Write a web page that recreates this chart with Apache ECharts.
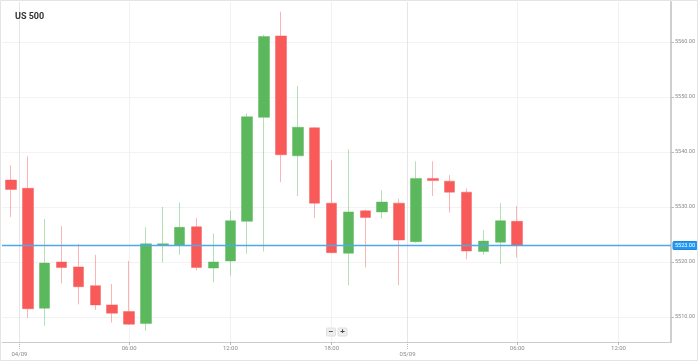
<!DOCTYPE html>
<html><head><meta charset="utf-8">
<script src="https://cdn.jsdelivr.net/npm/echarts@6/dist/echarts.min.js"></script>
<style>html,body{margin:0;padding:0;background:#fff}#c{width:698px;height:361px}</style>
</head><body><div id="c"></div>
<script>
// hourly candles, index positions on the time axis
const candleIndex = [0,1,2,3,4,5,6,7,8,9,10,11,12,13,14,15,16,17,18,19,20,21,22,23,24,25,26,27,28,29,30];
const opens  = [5534.9,5533.4,5511.6,5520.0,5519.1,5515.7,5512.2,5511.0,5508.8,5523.1,5523.1,5526.4,5518.9,5520.2,5527.4,5546.3,5561.1,5539.3,5544.4,5530.7,5521.6,5529.3,5529.1,5530.7,5523.7,5535.2,5534.7,5532.7,5521.9,5523.6,5527.4];
const closes = [5533.2,5511.5,5519.8,5519.0,5515.5,5512.2,5510.7,5508.7,5523.3,5523.3,5526.3,5519.0,5520.0,5527.5,5546.4,5561.0,5539.5,5544.5,5530.7,5521.7,5529.1,5528.1,5530.9,5524.0,5535.2,5534.8,5532.7,5522.0,5523.8,5527.5,5523.0];
const lows   = [5528.2,5509.8,5508.4,5516.1,5512.3,5511.3,5509.0,5508.6,5507.5,5519.9,5521.3,5518.5,5516.3,5517.5,5521.5,5521.9,5534.5,5532.0,5528.0,5521.6,5515.8,5519.0,5527.9,5515.8,5523.5,5532.0,5529.0,5520.5,5521.3,5519.6,5520.8];
const highs  = [5537.6,5539.2,5527.8,5526.5,5523.3,5521.3,5516.0,5520.2,5526.3,5530.0,5530.8,5528.0,5525.2,5529.3,5547.0,5561.3,5565.5,5552.0,5544.5,5538.5,5540.5,5529.5,5533.0,5531.5,5538.3,5538.3,5535.8,5533.4,5525.8,5530.7,5530.2];
const currentPrice = 5523.00;
// axis tick labels
const timeTickPos = [7,13,19,30,36];
const timeTickLabels = ['06:00','12:00','18:00','06:00','12:00'];
const dateTickPos = [0.5,23.5];
const dateTickLabels = ['04/09','05/09'];
const priceTicks = [5510,5520,5530,5540,5550,5560];

const data = candleIndex.map((x,i)=>[x,opens[i],closes[i],lows[i],highs[i]]);
const labelFor = (pos, labels) => v => { const k = pos.findIndex(p=>Math.abs(p-v)<1e-6); return k>=0?labels[k]:''; };

const chart = echarts.init(document.getElementById('c'), null, {renderer:'canvas'});
const xMin = -0.533, xMax = 39.112;
chart.setOption({
  animation:false,
  backgroundColor:'#fff',
  title:{text:'US 500', left:10, top:7, textStyle:{fontSize:9, fontWeight:'bold', color:'#333', fontFamily:'Roboto'}},
  grid:{left:2, right:26, top:2, bottom:19},
  xAxis:[{
    type:'value', min:xMin, max:xMax, position:'bottom',
    axisLine:{show:true, onZero:false, lineStyle:{color:'#cccccc', width:1}},
    axisTick:{show:true, length:3, customValues:timeTickPos, lineStyle:{color:'#bbbbbb'}},
    axisLabel:{customValues:timeTickPos, formatter:labelFor(timeTickPos,timeTickLabels), fontSize:6, color:'#8a8a8a', margin:3, fontFamily:'Roboto'},
    splitLine:{show:true, lineStyle:{color:'#f1f1f1', width:1}}
  },{
    type:'value', min:xMin, max:xMax, position:'bottom',
    axisLine:{show:false, onZero:false},
    axisTick:{show:true, length:8, customValues:dateTickPos, lineStyle:{color:'#b8b8b8', type:[1,1]}},
    axisLabel:{customValues:dateTickPos, formatter:labelFor(dateTickPos,dateTickLabels), fontSize:6, color:'#8a8a8a', margin:9, fontFamily:'Roboto'},
    splitLine:{show:true, lineStyle:{color:'#e6e6e6', width:1}}
  }],
  yAxis:{
    type:'value', position:'right', min:5505.4545, max:5567.2727,
    axisLine:{show:true, onZero:false, lineStyle:{color:'#cfcfcf', width:2}},
    axisTick:{show:true, length:3, customValues:priceTicks, lineStyle:{color:'#bbbbbb'}},
    axisLabel:{customValues:priceTicks, formatter:v=>v.toFixed(2), fontSize:5.5, color:'#8a8a8a', margin:4, fontFamily:'Roboto'},
    splitLine:{show:true, lineStyle:{color:'#f3f3f3', width:1}}
  },
  series:[{
    type:'candlestick', xAxisIndex:0, yAxisIndex:0,
    data:data, encode:{x:0, y:[1,2,3,4]},
    barWidth:11,
    itemStyle:{color:'#5cb85c', color0:'#f85a5a', borderColor:'rgba(92,184,92,0.45)', borderColor0:'rgba(248,90,90,0.45)', borderWidth:1}
  },{
    type:'line', xAxisIndex:0, yAxisIndex:0, silent:true, z:3,
    data:[[xMin,currentPrice],[xMax,currentPrice]],
    symbol:'none', showSymbol:false,
    itemStyle:{color:'#4ea8ea'},
    lineStyle:{color:'#4ea8ea', width:1.4},
    endLabel:{show:true, formatter:()=>currentPrice.toFixed(2), color:'#fff', backgroundColor:'#2196f3', borderColor:'#1877c9', borderWidth:0.5, padding:[1,2], borderRadius:1, fontSize:5.5, distance:2, fontFamily:'Roboto'}
  }],
  graphic:[
    {type:'rect', shape:{x:0.5,y:0.5,width:697,height:360}, style:{fill:'transparent', stroke:'#e4e4e4', lineWidth:1}, silent:true, z:100},
    {type:'rect', shape:{x:326.5,y:328,width:9,height:8, r:1}, style:{fill:'#eeeeee', stroke:'#e0e0e0'}, z:100},
    {type:'text', x:331, y:332, style:{text:'−', fontSize:8, fill:'#444', align:'center', verticalAlign:'middle', fontWeight:'bold'}, z:101},
    {type:'rect', shape:{x:338,y:328,width:9,height:8, r:1}, style:{fill:'#eeeeee', stroke:'#e0e0e0'}, z:100},
    {type:'text', x:342.5, y:332, style:{text:'+', fontSize:8, fill:'#444', align:'center', verticalAlign:'middle', fontWeight:'bold'}, z:101}
  ]
});
</script></body></html>
